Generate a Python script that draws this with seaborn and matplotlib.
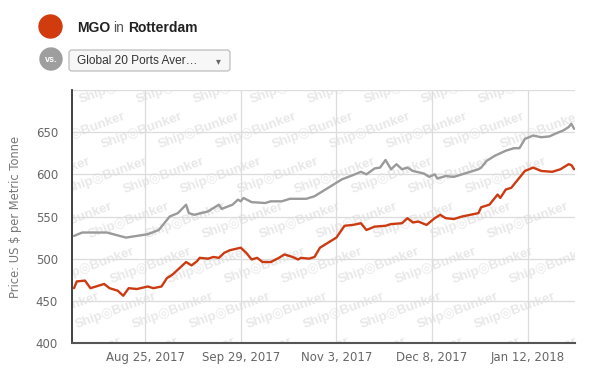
import matplotlib
matplotlib.use("Agg")
import matplotlib.pyplot as plt
import matplotlib.patches as mpatches
import seaborn as sns
import pandas as pd

# ---------------- data ----------------
global_dates = ["2017-07-30", "2017-08-02", "2017-08-11", "2017-08-18", "2017-08-22", "2017-08-26",
                "2017-08-30", "2017-09-03", "2017-09-06", "2017-09-09", "2017-09-10", "2017-09-12",
                "2017-09-17", "2017-09-21", "2017-09-22", "2017-09-26", "2017-09-28", "2017-09-29",
                "2017-09-30", "2017-10-03", "2017-10-08", "2017-10-10", "2017-10-14", "2017-10-17",
                "2017-10-23", "2017-10-26", "2017-10-29", "2017-11-01", "2017-11-05", "2017-11-09",
                "2017-11-12", "2017-11-14", "2017-11-17", "2017-11-19", "2017-11-21", "2017-11-23",
                "2017-11-25", "2017-11-27", "2017-11-29", "2017-12-01", "2017-12-05", "2017-12-07",
                "2017-12-09", "2017-12-10", "2017-12-13", "2017-12-16", "2017-12-20", "2017-12-23",
                "2017-12-25", "2017-12-26", "2017-12-28", "2017-12-31", "2018-01-04", "2018-01-07",
                "2018-01-09", "2018-01-11", "2018-01-14", "2018-01-17", "2018-01-20", "2018-01-22",
                "2018-01-25", "2018-01-27", "2018-01-28", "2018-01-29"]
global_values = [527, 531, 531, 525, 527, 529,
                 534, 550, 554, 564, 554, 552,
                 556, 564, 559, 564, 570, 568,
                 572, 567, 566, 568, 568, 571,
                 571, 574, 580, 586, 594, 599,
                 603, 600, 607, 608, 617, 606,
                 612, 606, 608, 604, 601, 597,
                 600, 595, 598, 597, 601, 604,
                 606, 608, 616, 622, 628, 631,
                 631, 642, 646, 644, 645, 648,
                 652, 656, 660, 654]

mgo_dates = ["2017-07-30", "2017-07-31", "2017-08-03", "2017-08-05", "2017-08-07", "2017-08-10",
             "2017-08-12", "2017-08-15", "2017-08-17", "2017-08-19", "2017-08-22", "2017-08-26",
             "2017-08-28", "2017-08-31", "2017-09-02", "2017-09-04", "2017-09-06", "2017-09-09",
             "2017-09-11", "2017-09-13", "2017-09-14", "2017-09-17", "2017-09-19", "2017-09-21",
             "2017-09-23", "2017-09-25", "2017-09-29", "2017-10-01", "2017-10-03", "2017-10-05",
             "2017-10-07", "2017-10-10", "2017-10-13", "2017-10-15", "2017-10-18", "2017-10-20",
             "2017-10-21", "2017-10-24", "2017-10-26", "2017-10-28", "2017-10-31", "2017-11-03",
             "2017-11-06", "2017-11-09", "2017-11-12", "2017-11-14", "2017-11-17", "2017-11-21",
             "2017-11-23", "2017-11-27", "2017-11-29", "2017-12-01", "2017-12-03", "2017-12-06",
             "2017-12-09", "2017-12-11", "2017-12-13", "2017-12-16", "2017-12-19", "2017-12-22",
             "2017-12-25", "2017-12-26", "2017-12-29", "2017-12-30", "2018-01-01", "2018-01-02",
             "2018-01-04", "2018-01-06", "2018-01-08", "2018-01-11", "2018-01-14", "2018-01-17",
             "2018-01-21", "2018-01-24", "2018-01-27", "2018-01-28", "2018-01-29"]
mgo_values = [465, 473, 474, 465, 467, 470,
              465, 462, 456, 465, 464, 467,
              465, 467, 477, 481, 487, 496,
              492, 497, 501, 500, 502, 501,
              507, 510, 513, 507, 499, 501,
              496, 496, 501, 505, 502, 499,
              501, 500, 502, 513, 519, 525,
              539, 540, 542, 534, 538, 539,
              541, 542, 548, 543, 544, 540,
              548, 552, 548, 547, 550, 552,
              554, 561, 564, 568, 576, 572,
              582, 584, 592, 604, 608, 604,
              603, 606, 612, 611, 606]

x_tick_dates = ["2017-08-25", "2017-09-29", "2017-11-03", "2017-12-08", "2018-01-12"]
x_tick_labels = ["Aug 25, 2017", "Sep 29, 2017", "Nov 3, 2017", "Dec 8, 2017", "Jan 12, 2018"]
y_ticks = [400, 450, 500, 550, 600, 650]
x_range = ["2017-07-29 06:00", "2018-01-29 08:00"]
y_range = [400, 700]

title_fuel = "MGO"
title_port = "Rotterdam"
compare_label = "Global 20 Ports Aver…"
y_label = "Price: US $ per Metric Tonne"
watermark = "Ship\u25CEBunker"

RED = "#cc3a12"
GRAY = "#9a9a9a"

# ---------------- figure ----------------
sns.set_style("white")
plt.rcParams["font.family"] = ["DejaVu Sans"]

W, H = 600, 380
fig = plt.figure(figsize=(W / 100, H / 100), dpi=100)

# overlay axes in pixel coordinates for header & watermark
ov = fig.add_axes([0, 0, 1, 1])
ov.set_xlim(0, W)
ov.set_ylim(H, 0)
ov.axis("off")

L, R, T, B = 72, 575, 90, 343
ax = fig.add_axes([L / W, 1 - B / H, (R - L) / W, (B - T) / H])
ax.patch.set_alpha(0)

df_g = pd.DataFrame({"date": pd.to_datetime(global_dates), "price": global_values})
df_m = pd.DataFrame({"date": pd.to_datetime(mgo_dates), "price": mgo_values})

sns.lineplot(data=df_g, x="date", y="price", ax=ax, color=GRAY, linewidth=1.7, zorder=3)
sns.lineplot(data=df_m, x="date", y="price", ax=ax, color=RED, linewidth=1.7, zorder=4)

ax.set_xlim(pd.to_datetime(x_range[0]), pd.to_datetime(x_range[1]))
ax.set_ylim(*y_range)
ax.set_yticks(y_ticks)
ax.set_yticklabels([str(v) for v in y_ticks])
ax.set_xticks(pd.to_datetime(x_tick_dates))
ax.set_xticklabels(x_tick_labels)
ax.tick_params(axis="both", length=0, colors="#666666", labelsize=8.5)
ax.tick_params(axis="y", pad=10)
ax.tick_params(axis="x", pad=6)
ax.set_xlabel("")
ax.set_ylabel(y_label, color="#777777", fontsize=8.3, labelpad=10)

# grid
for v in [450, 500, 550, 600, 650, 700]:
    ax.axhline(v, color="#dcdcdc", linewidth=0.9, zorder=1)
for d in x_tick_dates:
    ax.axvline(pd.to_datetime(d), color="#dcdcdc", linewidth=0.9, zorder=1)

for s in ["top", "right"]:
    ax.spines[s].set_visible(False)
ax.spines["left"].set_color("#333333")
ax.spines["left"].set_linewidth(1.3)
ax.spines["bottom"].set_color("#555555")
ax.spines["bottom"].set_linewidth(1.5)

# watermark tiles, clipped to the plot area; drop tiles that leave the figure
wm = []
for j in range(-1, 7):
    for i in range(-3, 11):
        px = 80 + 22 * j + 57 * i
        py = 100 + 45 * j
        t = ov.text(px, py, watermark, fontsize=9.5, fontweight="bold",
                    family=["Liberation Sans", "DejaVu Sans"], color="#e8e8e8",
                    rotation=20, rotation_mode="anchor", ha="left", va="center", zorder=0)
        t.set_clip_box(ax.bbox)
        t.set_clip_on(True)
        wm.append(t)
fig.canvas.draw()
r = fig.canvas.get_renderer()
abox = ax.bbox
for t in wm:
    bb = t.get_window_extent(renderer=r)
    overlaps = (bb.x1 > abox.x0 and bb.x0 < abox.x1 and bb.y1 > abox.y0 and bb.y0 < abox.y1)
    inside_fig = (bb.x0 >= 1 and bb.x1 <= W - 1 and bb.y0 >= 1 and bb.y1 <= H - 1)
    if not (overlaps and inside_fig):
        t.remove()

# header
ov.add_patch(mpatches.Circle((50.5, 26.5), 11.5, color="#d03c0d", zorder=5))
hfam = ["Liberation Sans", "DejaVu Sans"]
ov.text(77, 28, title_fuel, fontsize=10, fontweight="bold", family=hfam, color="#222222",
        ha="left", va="center")
ov.text(113, 28, "in", fontsize=10, family=hfam, color="#555555", ha="left", va="center")
ov.text(128, 28, title_port, fontsize=10, fontweight="bold", family=hfam, color="#222222",
        ha="left", va="center")

ov.add_patch(mpatches.Circle((51, 59), 11, color="#9e9e9e", zorder=5))
ov.text(51, 59.5, "vs.", fontsize=6.5, fontweight="bold", family=hfam, color="white",
        ha="center", va="center", zorder=6)
box = mpatches.FancyBboxPatch((69, 50), 161, 21, boxstyle="round,pad=0,rounding_size=3",
                              facecolor="#f7f7f7", edgecolor="#bdbdbd", linewidth=0.9, zorder=5)
ov.add_patch(box)
ov.text(77, 61, compare_label, fontsize=8.6, family=hfam, color="#333333",
        ha="left", va="center", zorder=6)
ov.text(218, 61, "\u25BE", fontsize=7, family=["DejaVu Sans"], color="#666666",
        ha="center", va="center", zorder=6)

fig.savefig("out.png", dpi=100)
